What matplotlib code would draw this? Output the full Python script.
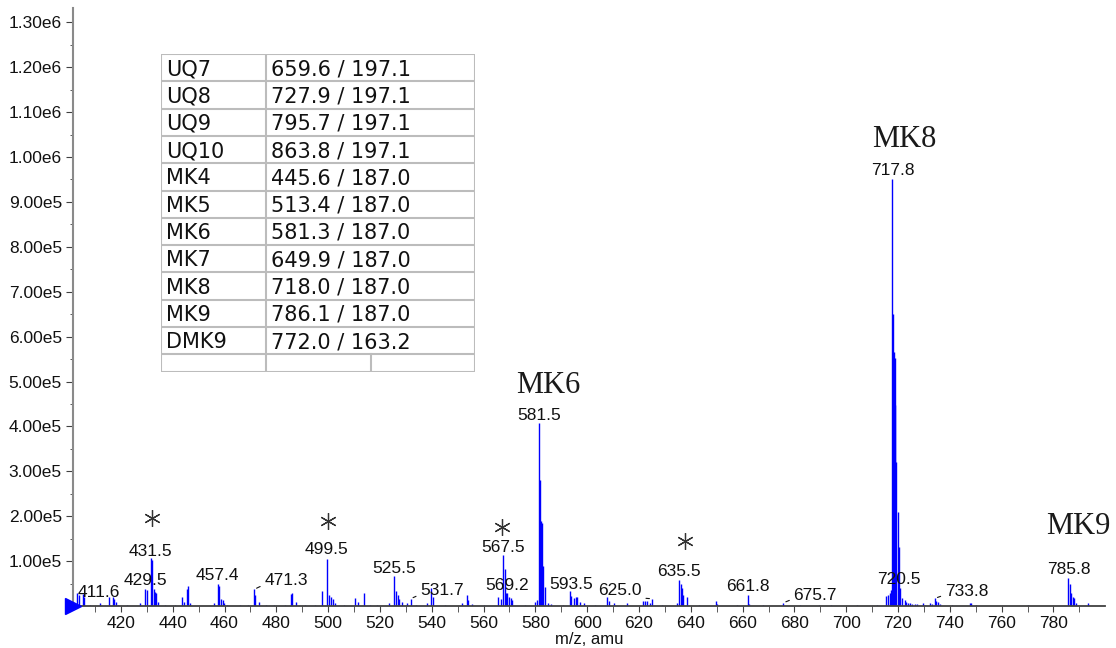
import matplotlib
matplotlib.use('Agg')
import matplotlib.pyplot as plt
from matplotlib.ticker import MultipleLocator, FuncFormatter

plt.rcParams['font.family'] = ['Liberation Sans', 'DejaVu Sans']

# spectrum sticks: m/z and intensity (counts)
mz = [403.1, 403.9, 405.2, 405.7, 408.0, 411.9, 415.5, 416.8, 417.3, 418.0, 419.0, 422.5,
      427.3, 429.4, 429.9, 431.5, 432.0, 432.7, 433.2, 433.7, 434.5, 437.0, 441.0,
      443.6, 444.2, 445.4, 446.0, 446.6, 455.9, 457.5, 458.0, 458.8, 459.3, 459.8, 461.0,
      466.0, 469.0, 471.4, 471.9, 473.4, 476.0, 479.0, 483.4, 485.5, 486.0, 487.6, 491.0,
      495.0, 497.6, 499.7, 500.5, 501.0, 501.8, 502.8, 506.0, 510.2, 511.7, 513.8, 516.0,
      519.0, 523.6, 525.5, 526.2, 526.8, 527.5, 528.5, 530.3, 531.8, 534.0, 538.3, 539.6,
      540.6, 545.0, 551.6, 553.5, 554.1, 555.4, 560.0, 565.6, 566.6, 567.6, 568.1, 568.6,
      569.2, 569.7, 570.4, 571.0, 576.0, 579.8, 580.7, 581.5, 581.9, 582.2, 582.6, 583.1,
      583.6, 584.8, 586.1, 590.5, 593.4, 593.9, 594.9, 595.7, 596.2, 597.2, 598.8, 603.0,
      607.8, 608.3, 610.4, 615.3, 621.7, 622.4, 623.0, 624.3, 625.1, 629.0, 634.5, 635.6,
      636.1, 636.6, 637.1, 638.4, 643.0, 649.7, 650.2, 657.9, 662.1, 662.6, 668.0, 675.7,
      682.0, 689.4, 694.0, 704.0, 712.0, 715.5, 716.2, 716.8, 717.2, 717.8, 718.1, 718.4,
      718.7, 719.0, 719.4, 720.0, 720.4, 720.9, 721.7, 722.6, 723.2, 723.9, 724.5, 725.5,
      726.5, 727.5, 729.6, 730.5, 732.2, 733.0, 734.2, 734.8, 735.4, 736.1, 741.0, 747.7,
      748.3, 750.2, 770.3, 785.8, 786.3, 786.8, 787.4, 787.9, 788.7, 793.5]
inten = [0.30, 0.25, 0.26, 0.20, 0.03, 0.07, 0.19, 0.20, 0.15, 0.08, 0.03, 0.02,
         0.06, 0.38, 0.36, 1.08, 1.02, 0.37, 0.32, 0.28, 0.10, 0.02, 0.03,
         0.21, 0.08, 0.37, 0.45, 0.07, 0.06, 0.49, 0.45, 0.15, 0.13, 0.07, 0.03,
         0.02, 0.03, 0.37, 0.24, 0.10, 0.03, 0.02, 0.03, 0.27, 0.30, 0.10, 0.02,
         0.03, 0.33, 1.05, 0.25, 0.21, 0.15, 0.07, 0.02, 0.17, 0.10, 0.28, 0.03,
         0.02, 0.06, 0.67, 0.34, 0.25, 0.15, 0.08, 0.07, 0.16, 0.03, 0.07, 0.40,
         0.21, 0.02, 0.06, 0.25, 0.13, 0.04, 0.02, 0.19, 0.15, 1.13, 0.82, 0.28,
         0.30, 0.21, 0.17, 0.13, 0.02, 0.10, 0.13, 4.07, 2.80, 1.90, 1.85, 0.90,
         0.43, 0.06, 0.04, 0.03, 0.33, 0.22, 0.17, 0.21, 0.19, 0.10, 0.06, 0.02,
         0.19, 0.12, 0.07, 0.07, 0.12, 0.12, 0.12, 0.06, 0.16, 0.02, 0.06, 0.58,
         0.50, 0.39, 0.25, 0.19, 0.02, 0.12, 0.04, 0.02, 0.25, 0.04, 0.02, 0.07,
         0.02, 0.03, 0.02, 0.03, 0.03, 0.22, 0.25, 0.28, 0.35, 9.52, 6.50, 5.66,
         5.52, 4.48, 3.20, 2.10, 1.32, 0.39, 0.17, 0.13, 0.10, 0.07, 0.06, 0.05,
         0.04, 0.05, 0.06, 0.03, 0.06, 0.04, 0.17, 0.12, 0.10, 0.04, 0.02, 0.06,
         0.07, 0.03, 0.03, 0.62, 0.50, 0.28, 0.21, 0.17, 0.07, 0.06]
inten = [v * 1e5 for v in inten]

# peak labels: text, peak (x, y), text position (x, y), leader line?
lab_text = ['411.6', '429.5', '431.5', '457.4', '471.3', '499.5', '525.5', '531.7', '567.5',
            '569.2', '581.5', '593.5', '625.0', '635.5', '661.8', '675.7', '717.8', '720.5',
            '733.8', '785.8']
lab_peak_x = [411.9, 429.4, 431.5, 457.5, 471.4, 499.7, 525.5, 531.8, 567.6,
              569.2, 581.5, 593.4, 625.1, 635.6, 662.1, 675.7, 717.8, 720.4,
              734.2, 785.8]
lab_peak_y = [0.07, 0.38, 1.08, 0.49, 0.37, 1.05, 0.67, 0.16, 1.13,
              0.30, 4.07, 0.33, 0.16, 0.58, 0.25, 0.07, 9.52, 1.32,
              0.17, 0.62]
lab_x = [411.5, 429.5, 431.5, 457.3, 483.7, 499.5, 525.4, 543.9, 567.5,
         569.2, 581.4, 593.7, 612.7, 635.4, 661.9, 688.0, 717.9, 720.3,
         746.4, 785.9]
lab_y = [0.29, 0.56, 1.22, 0.67, 0.56, 1.25, 0.84, 0.34, 1.30,
         0.46, 4.25, 0.49, 0.34, 0.76, 0.43, 0.245, 9.71, 0.60,
         0.33, 0.82]
lab_leader = ['471.3', '531.7', '625.0', '675.7', '733.8']

# asterisks over marked peaks
star_x = [431.9, 500.0, 567.2, 637.9]
star_y = [1.96e5, 1.89e5, 1.76e5, 1.45e5]

# compound labels
mk_text = ['MK6', 'MK8', 'MK9']
mk_x = [584.9, 722.3, 789.5]
mk_y = [4.92e5, 10.4e5, 1.78e5]

# MRM transition table
tab_names = ['UQ7', 'UQ8', 'UQ9', 'UQ10', 'MK4', 'MK5', 'MK6', 'MK7', 'MK8', 'MK9', 'DMK9']
tab_values = ['659.6 / 197.1', '727.9 / 197.1', '795.7 / 197.1', '863.8 / 197.1',
              '445.6 / 187.0', '513.4 / 187.0', '581.3 / 187.0', '649.9 / 187.0',
              '718.0 / 187.0', '786.1 / 187.0', '772.0 / 163.2']

W, H = 1116, 648
fig = plt.figure(figsize=(W / 100, H / 100), dpi=100)
ax = fig.add_axes([73 / W, 42 / H, 1032 / W, 598 / H])

ax.vlines(mz, 0, inten, color='#0000ff', lw=1.0)

ax.set_xlim(401.5, 799.9)
ax.set_ylim(0, 1.332e6)
ax.xaxis.set_major_locator(MultipleLocator(20))
ax.xaxis.set_minor_locator(MultipleLocator(10))
ax.set_yticks([i * 1e5 for i in range(1, 14)])
ax.yaxis.set_minor_locator(MultipleLocator(0.5e5))

def fmt(v, pos):
    m, e = ('%.2e' % v).split('e')
    return m + 'e' + str(int(e))
ax.yaxis.set_major_formatter(FuncFormatter(fmt))

for s in ['top', 'right']:
    ax.spines[s].set_visible(False)
ax.spines['left'].set_color('#8a8a8a')
ax.spines['left'].set_linewidth(1.5)
ax.spines['bottom'].set_color('#404040')
ax.spines['bottom'].set_linewidth(1.3)
ax.tick_params(axis='both', which='both', direction='out', labelsize=12.5, colors='#404040',
               labelcolor='#111111')
ax.tick_params(axis='y', which='major', length=5, pad=3)
ax.tick_params(axis='y', which='minor', length=2.5)
ax.tick_params(axis='x', which='both', length=4, pad=3)
ax.set_xlabel('m/z, amu', fontsize=12, color='#111111', labelpad=1)

# blue triangle at the origin
ax.plot([0], [0], marker='>', color='#0000ff', markersize=11, clip_on=False,
        transform=ax.get_yaxis_transform(), zorder=5)

for t, px, py, tx, ty in zip(lab_text, lab_peak_x, lab_peak_y, lab_x, lab_y):
    if t in lab_leader:
        ax.annotate(t, xy=(px, py * 1e5), xytext=(tx, ty * 1e5), ha='center', va='center',
                    fontsize=12.5, color='#111111',
                    arrowprops=dict(arrowstyle='-', color='#111111', lw=0.8,
                                    relpos=(0, 0.25), shrinkA=1, shrinkB=2))
    else:
        ax.text(tx, ty * 1e5, t, ha='center', va='center', fontsize=12.5, color='#111111')

ax.plot(star_x, star_y, ls='none', marker=(6, 2, 0), markersize=12, color='#333333',
        markeredgewidth=0.9)

for t, x, y in zip(mk_text, mk_x, mk_y):
    ax.text(x, y, t, ha='center', va='center', fontsize=22, family='Liberation Serif',
            color='#1a1a1a')

# table drawn in its own axes (pixel units)
tl, tt, tr, tb = 161, 54, 475, 371.7
row_h = 27.3
tab = fig.add_axes([tl / W, 1 - tb / H, (tr - tl) / W, (tb - tt) / H])
tab.set_xlim(0, tr - tl)
tab.set_ylim(tb - tt, 0)
tab.axis('off')
col = 105
n = len(tab_names)
lc = '#bcbcbc'
for k in range(n + 1):
    tab.plot([0, tr - tl], [k * row_h, k * row_h], color=lc, lw=1.5)
tab.plot([0, tr - tl], [tb - tt, tb - tt], color=lc, lw=1.5)
tab.plot([0, 0], [0, tb - tt], color=lc, lw=1.5)
tab.plot([tr - tl, tr - tl], [0, tb - tt], color=lc, lw=1.5)
tab.plot([col, col], [0, tb - tt], color=lc, lw=1.5)
tab.plot([210, 210], [n * row_h, tb - tt], color=lc, lw=1.5)
for k, (nm, v) in enumerate(zip(tab_names, tab_values)):
    yc = (k + 0.5) * row_h + 1.5
    tab.text(5, yc, nm, ha='left', va='center', fontsize=15, family='DejaVu Sans',
             color='#111111')
    tab.text(col + 5, yc, v, ha='left', va='center', fontsize=15, family='DejaVu Sans',
             color='#111111')

fig.savefig('out.png', dpi=100)
